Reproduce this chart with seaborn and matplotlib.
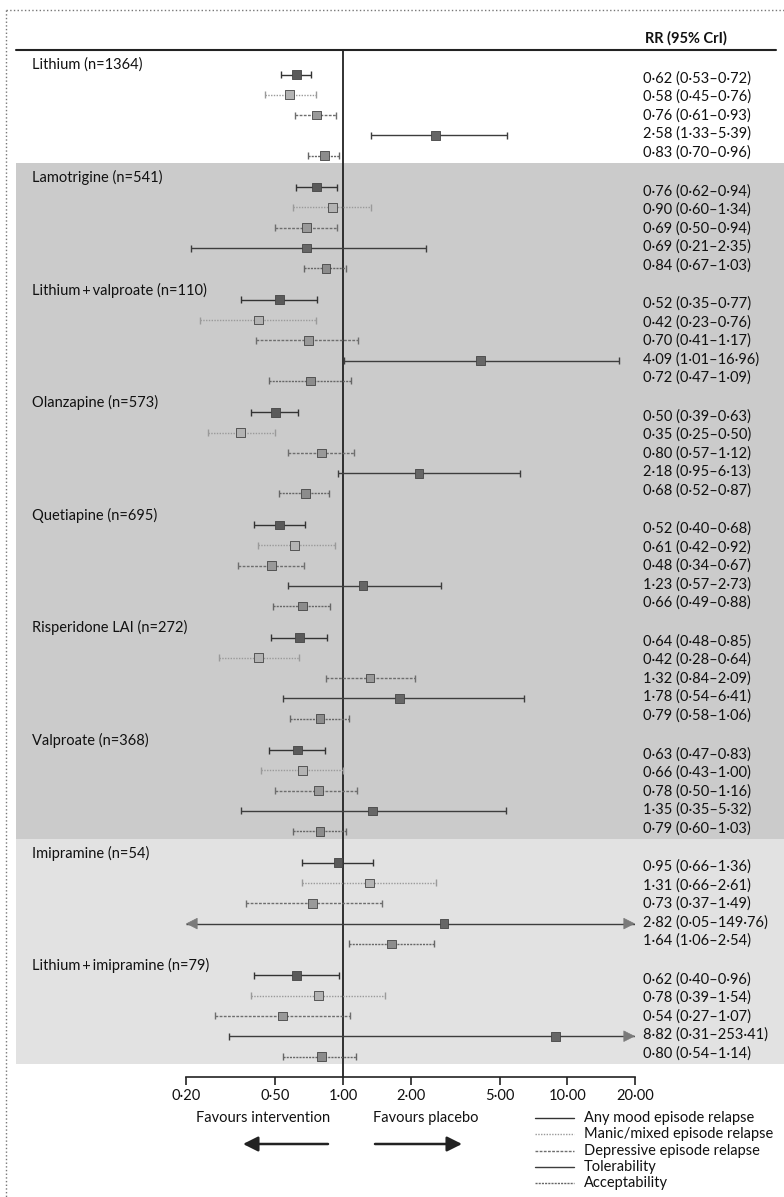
import numpy as np
import pandas as pd
import matplotlib
matplotlib.use("Agg")
import matplotlib.pyplot as plt
import seaborn as sns

sns.set_theme(style="white")
plt.rcParams["font.family"] = ["Lato", "DejaVu Sans"]

# ---- data ----
drugs = ["Lithium (n=1364)", "Lamotrigine (n=541)", "Lithium\u2009+\u2009valproate (n=110)",
         "Olanzapine (n=573)", "Quetiapine (n=695)", "Risperidone LAI (n=272)",
         "Valproate (n=368)", "Imipramine (n=54)", "Lithium\u2009+\u2009imipramine (n=79)"]
outcomes = ["Any mood episode relapse", "Manic/mixed episode relapse",
            "Depressive episode relapse", "Tolerability", "Acceptability"]

rr = [[0.62, 0.58, 0.76, 2.58, 0.83],
      [0.76, 0.90, 0.69, 0.69, 0.84],
      [0.52, 0.42, 0.70, 4.09, 0.72],
      [0.50, 0.35, 0.80, 2.18, 0.68],
      [0.52, 0.61, 0.48, 1.23, 0.66],
      [0.64, 0.42, 1.32, 1.78, 0.79],
      [0.63, 0.66, 0.78, 1.35, 0.79],
      [0.95, 1.31, 0.73, 2.82, 1.64],
      [0.62, 0.78, 0.54, 8.82, 0.80]]
lo = [[0.53, 0.45, 0.61, 1.33, 0.70],
      [0.62, 0.60, 0.50, 0.21, 0.67],
      [0.35, 0.23, 0.41, 1.01, 0.47],
      [0.39, 0.25, 0.57, 0.95, 0.52],
      [0.40, 0.42, 0.34, 0.57, 0.49],
      [0.48, 0.28, 0.84, 0.54, 0.58],
      [0.47, 0.43, 0.50, 0.35, 0.60],
      [0.66, 0.66, 0.37, 0.05, 1.06],
      [0.40, 0.39, 0.27, 0.31, 0.54]]
hi = [[0.72, 0.76, 0.93, 5.39, 0.96],
      [0.94, 1.34, 0.94, 2.35, 1.03],
      [0.77, 0.76, 1.17, 16.96, 1.09],
      [0.63, 0.50, 1.12, 6.13, 0.87],
      [0.68, 0.92, 0.67, 2.73, 0.88],
      [0.85, 0.64, 2.09, 6.41, 1.06],
      [0.83, 1.00, 1.16, 5.32, 1.03],
      [1.36, 2.61, 1.49, 149.76, 2.54],
      [0.96, 1.54, 1.07, 253.41, 1.14]]

ticks = [0.2, 0.5, 1, 2, 5, 10, 20]

# ---- styles ----
line_col = {"Any mood episode relapse": "#333333", "Manic/mixed episode relapse": "#9a9a9a",
            "Depressive episode relapse": "#6e6e6e", "Tolerability": "#3d3d3d",
            "Acceptability": "#666666"}
line_ls = {"Any mood episode relapse": "-", "Manic/mixed episode relapse": (0, (1, 1)),
           "Depressive episode relapse": (0, (2, 1)), "Tolerability": "-",
           "Acceptability": (0, (1.5, 0.8))}
mark_col = {"Any mood episode relapse": "#5a5a5a", "Manic/mixed episode relapse": "#b3b3b3",
            "Depressive episode relapse": "#999999", "Tolerability": "#666666",
            "Acceptability": "#8c8c8c"}

W, H = 784, 1197
SEC_TOP, SEC_H = 50.5, 112.6
XMIN, XMAX = 0.2, 20

rows = []
for i, d in enumerate(drugs):
    top = SEC_TOP + SEC_H * i
    for k, o in enumerate(outcomes):
        rows.append(dict(drug=d, outcome=o, rr=rr[i][k], lo=lo[i][k], hi=hi[i][k],
                         y=top + 24 + 20.3 * k, ty=top + 28 + 18.5 * k))
df = pd.DataFrame(rows)

fig = plt.figure(figsize=(W / 100, H / 100), dpi=100)

# background / annotation layer in pixel units
bg = fig.add_axes([0, 0, 1, 1], zorder=0)
bg.set_xlim(0, W)
bg.set_ylim(H, 0)
bg.axis("off")

for i in range(len(drugs)):
    top = SEC_TOP + SEC_H * i
    if 1 <= i <= 6:
        bg.add_patch(plt.Rectangle((16, top), W - 16, SEC_H, color="#cbcbcb", lw=0))
    elif i >= 7:
        bg.add_patch(plt.Rectangle((16, top), W - 16, SEC_H, color="#e2e2e2", lw=0))
    bg.text(32, top + 14.3, drugs[i], fontsize=10.5, va="center", ha="left", color="#111")

bg.plot([6, 6], [10, H], ls=":", color="#777", lw=1)
bg.plot([6, W], [10, 10], ls=":", color="#777", lw=1)
bg.plot([16, 776], [50, 50], color="#222", lw=1.5)
bg.text(645, 38, "RR (95% CrI)", fontsize=10.5, fontweight="bold", va="center", color="#111")

for _, r in df.iterrows():
    txt = "{:.2f} ({:.2f}\u2013{:.2f})".format(r.rr, r.lo, r.hi).replace(".", "\u00b7")
    bg.text(643, r.ty, txt, fontsize=10.5, va="center", ha="left", color="#111")

# legend
for k, o in enumerate(outcomes):
    yy = 1118 + 16.3 * k
    bg.plot([535, 574], [yy, yy], color=line_col[o], ls=line_ls[o], lw=1)
    bg.text(584, yy, o, fontsize=10.5, va="center", ha="left", color="#111")

bg.text(263, 1118, "Favours intervention", fontsize=10.5, ha="center", va="center", color="#111")
bg.text(426, 1118, "Favours placebo", fontsize=10.5, ha="center", va="center", color="#111")
arrow_kw = dict(arrowstyle="-|>,head_length=0.9,head_width=0.45", color="#222", lw=1.8,
                shrinkA=0, shrinkB=0, mutation_scale=10)
bg.annotate("", xy=(243, 1144), xytext=(328, 1144), arrowprops=arrow_kw)
bg.annotate("", xy=(462, 1144), xytext=(375, 1144), arrowprops=arrow_kw)

# forest plot axes
ax = fig.add_axes([186 / W, (H - 1077) / H, 449 / W, 1027 / H], zorder=1)
ax.patch.set_alpha(0)
ax.set_xscale("log")
ax.set_xlim(XMIN, XMAX)
ax.set_ylim(1077, 50)
for s in ["top", "left", "right"]:
    ax.spines[s].set_visible(False)
ax.spines["bottom"].set_color("#222")
ax.spines["bottom"].set_linewidth(1.2)
ax.set_xticks(ticks)
ax.set_xticklabels(["{:.2f}".format(t).replace(".", "\u00b7") for t in ticks], fontsize=10.5, color="#111")
ax.minorticks_off()
ax.tick_params(axis="x", direction="out", length=5.5, width=1.2, color="#222", pad=3, bottom=True)
ax.set_yticks([])

ax.axvline(1, color="#222", lw=1.3, zorder=1)

head_kw = dict(arrowstyle="-|>,head_length=0.75,head_width=0.38", color="#7a7a7a", lw=0.5,
               shrinkA=0, shrinkB=0, mutation_scale=10)
for _, r in df.iterrows():
    x0 = max(r.lo, XMIN)
    x1 = min(r.hi, XMAX)
    ax.hlines(r.y, x0, x1, color=line_col[r.outcome], linestyles=[line_ls[r.outcome]], lw=1.0, zorder=2)
    if r.lo >= XMIN:
        ax.vlines(r.lo, r.y - 3.5, r.y + 3.5, color=line_col[r.outcome], lw=1.0, zorder=2)
    else:
        ax.annotate("", xy=(XMIN, r.y), xytext=(XMIN * 1.12, r.y), arrowprops=head_kw, zorder=3)
    if r.hi <= XMAX:
        ax.vlines(r.hi, r.y - 3.5, r.y + 3.5, color=line_col[r.outcome], lw=1.0, zorder=2)
    else:
        ax.annotate("", xy=(XMAX, r.y), xytext=(XMAX / 1.12, r.y), arrowprops=head_kw, zorder=3)

sns.scatterplot(data=df, x="rr", y="y", hue="outcome", palette=mark_col, marker="s", s=40,
                edgecolor="#444", linewidth=0.6, legend=False, ax=ax, zorder=4)
ax.set_xlabel("")
ax.set_ylabel("")
ax.set_ylim(1077, 50)

fig.savefig("out.png", dpi=100)
